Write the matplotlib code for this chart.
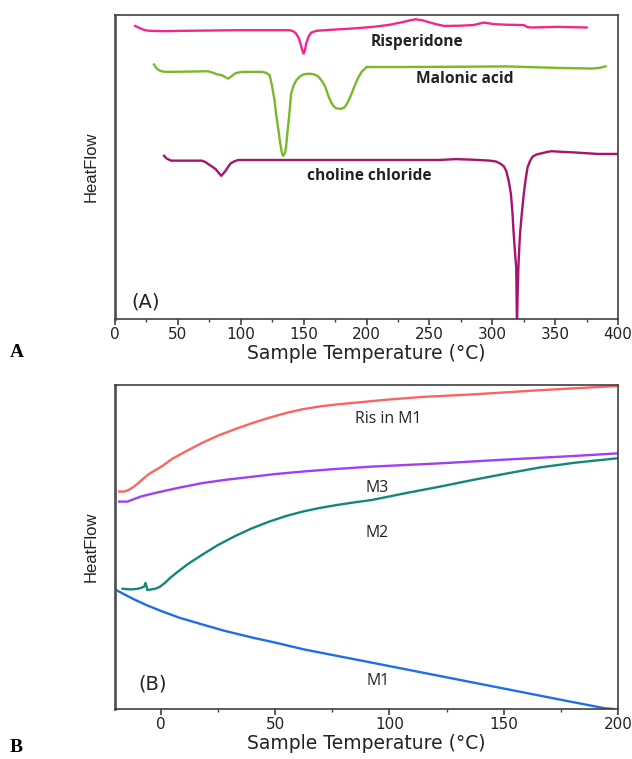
import matplotlib
matplotlib.use("Agg")
import matplotlib.pyplot as plt
from matplotlib.ticker import MultipleLocator

# ---------------- Panel A data ----------------
ris_T = [16, 18, 20, 24, 28, 40, 53, 75, 96, 120, 139, 142, 144, 146, 147.5, 149, 150, 151, 152, 154, 156, 160, 170, 190, 205, 217, 228, 235, 239, 244, 250, 256, 262, 275, 285, 290, 293, 297, 301, 312, 325, 328, 332, 352, 375]
ris_H = [96.4, 96.0, 95.6, 95.0, 94.8, 94.7, 94.8, 94.9, 95.0, 95.0, 95.0, 94.6, 93.9, 92.5, 90.6, 88.2, 87.3, 88.4, 90.6, 93.0, 94.2, 94.8, 95.1, 95.6, 96.1, 96.7, 97.6, 98.3, 98.6, 98.3, 97.6, 96.9, 96.4, 96.5, 96.7, 97.2, 97.5, 97.3, 97.0, 96.8, 96.7, 96.0, 95.9, 96.1, 95.9]

mal_T = [31, 33, 35, 38, 42, 60, 74, 78, 81, 85, 88, 90, 93, 96, 101, 117, 120, 123, 125, 127, 128, 130, 131, 132.5, 133.5, 135, 136, 137, 138.5, 140, 142, 144, 147, 150, 155, 158, 161, 163, 165, 167, 170, 172, 174, 176, 178, 180, 182, 184, 187, 190, 193, 196, 200, 231, 280, 311, 352, 379, 385, 390]
mal_H = [83.7, 82.5, 81.8, 81.4, 81.3, 81.4, 81.5, 81.0, 80.5, 80.2, 79.5, 79.1, 80.0, 80.9, 81.3, 81.3, 81.0, 80.2, 76.3, 71.5, 67.5, 62.0, 58.7, 55.0, 53.7, 54.5, 56.5, 61.0, 67.0, 74.1, 76.8, 78.5, 79.8, 80.5, 80.7, 80.5, 80.0, 79.1, 78.0, 76.5, 73.0, 71.2, 69.9, 69.3, 69.2, 69.2, 69.5, 70.5, 73.0, 76.2, 79.1, 81.3, 82.9, 82.9, 83.0, 83.1, 82.6, 82.4, 82.6, 83.1]

cho_T = [39, 41, 44.5, 55, 69, 72, 74, 77, 80, 83, 84.5, 86, 88, 90, 92, 95, 98, 120, 150, 200, 257, 271, 285, 298, 303, 306, 309, 311, 313, 314.8, 316, 317, 318, 319, 319.6, 320.2, 321, 322, 323.5, 325, 326.5, 328, 330, 332, 335, 339, 343, 347, 355, 365, 384, 400]
cho_H = [53.7, 52.8, 52.1, 52.1, 52.1, 51.6, 51.0, 50.2, 49.3, 47.8, 47.1, 47.8, 48.8, 50.1, 51.2, 51.9, 52.3, 52.3, 52.3, 52.3, 52.3, 52.6, 52.4, 52.1, 51.8, 51.2, 50.3, 48.8, 45.5, 41.1, 35.0, 27.9, 22.0, 16.9, -3.0, 10.0, 20.0, 27.9, 35.0, 41.1, 46.0, 49.9, 52.0, 53.4, 54.1, 54.5, 54.9, 55.2, 55.0, 54.8, 54.3, 54.3]

# ---------------- Panel B data ----------------
rism1_T = [-18.2, -16, -14, -12, -10, -8, -5, 0.3, 5, 10.7, 18, 25.5, 33, 40.3, 48, 55.1, 62, 69.9, 77, 84.7, 92, 99.6, 114.4, 136.6, 166.3, 200]
rism1_H = [67.1, 67.1, 67.6, 68.5, 69.6, 70.9, 72.6, 74.8, 77.2, 79.4, 82.1, 84.5, 86.5, 88.3, 90.0, 91.4, 92.5, 93.4, 94.0, 94.5, 95.0, 95.5, 96.3, 97.1, 98.4, 99.7]

m3_T = [-18.2, -14.5, -12, -8.6, -4, 0.3, 8, 18.1, 28, 40.3, 50, 62.5, 77, 92.3, 121.9, 151.5, 181.1, 200]
m3_H = [64.0, 64.0, 64.7, 65.6, 66.4, 67.1, 68.3, 69.7, 70.7, 71.7, 72.5, 73.3, 74.1, 74.8, 75.8, 77.0, 78.1, 78.9]

m2_T = [-16.7, -13, -10, -8.6, -7.2, -6.7, -6.2, -5.9, -4.1, -2, -0.4, 1.8, 4, 7.7, 12, 18.1, 25, 32.9, 40, 47.7, 55, 62.5, 70, 77.4, 85, 92.3, 107, 121.9, 136.6, 151.5, 166.3, 181.1, 200]
m2_H = [37.1, 36.9, 37.1, 37.4, 37.8, 38.9, 37.8, 36.7, 36.9, 37.2, 37.7, 38.9, 40.4, 42.5, 44.8, 47.6, 50.6, 53.5, 55.8, 57.9, 59.6, 61.0, 62.1, 63.0, 63.8, 64.5, 66.6, 68.6, 70.7, 72.7, 74.6, 76.0, 77.4]

m1_T = [-20, -16, -11.6, -6, 0.3, 8, 18.1, 28, 40.3, 50, 62.5, 77, 92.3, 121.9, 151.5, 181.1, 194.4, 198]
m1_H = [36.9, 35.4, 33.8, 32.0, 30.2, 28.2, 26.1, 24.1, 22.0, 20.5, 18.4, 16.4, 14.3, 10.2, 6.1, 2.0, 0.2, 0.0]

xticks_A = [0, 50, 100, 150, 200, 250, 300, 350, 400]
xticks_B = [0, 50, 100, 150, 200]

fig = plt.figure(figsize=(6.32, 7.59), dpi=100)
axA = fig.add_axes([0.182, 0.5797, 0.796, 0.4005])
axB = fig.add_axes([0.182, 0.0659, 0.796, 0.4269])

spine_col = "#404040"
for ax in (axA, axB):
    for s in ax.spines.values():
        s.set_color(spine_col)
        s.set_linewidth(1.2)
    ax.spines["left"].set_linewidth(2.0)
    ax.spines["left"].set_color("#555555")
    ax.set_yticks([])
    ax.tick_params(axis="x", which="major", direction="out", length=4, width=1.2,
                   color=spine_col, labelsize=11, pad=2, labelcolor="#222222")
    ax.tick_params(axis="x", which="minor", direction="out", length=2.5, width=1.0, color=spine_col)
    ax.set_ylabel("HeatFlow", family="Liberation Sans", fontsize=12, labelpad=12, color="#222222")
    ax.set_xlabel("Sample Temperature (°C)", fontsize=13.5, labelpad=1, color="#222222")

lw = 1.7
# Panel A
axA.plot(ris_T, ris_H, color="#f0288c", lw=lw)
axA.plot(mal_T, mal_H, color="#78b928", lw=lw)
axA.plot(cho_T, cho_H, color="#a8146c", lw=lw)
axA.set_xlim(0, 400)
axA.set_ylim(0, 100)
axA.set_xticks(xticks_A)
axA.xaxis.set_minor_locator(MultipleLocator(25))
lab_kw = dict(fontsize=11.2, fontweight="bold", family="Open Sans", color="#222222", ha="center", va="center")
axA.text(240, 91.2, "Risperidone", **lab_kw)
axA.text(278, 78.9, "Malonic acid", **lab_kw)
axA.text(202, 47.1, "choline chloride", **lab_kw)
axA.text(24, 5.5, "(A)", fontsize=14, ha="center", va="center", color="#222222")

# Panel B
axB.plot(rism1_T, rism1_H, color="#fa6464", lw=lw)
axB.plot(m3_T, m3_H, color="#a040f5", lw=lw)
axB.plot(m2_T, m2_H, color="#14877a", lw=lw)
axB.plot(m1_T, m1_H, color="#1e6fe6", lw=lw)
axB.set_xlim(-20, 200)
axB.set_ylim(0, 100)
axB.set_xticks(xticks_B)
axB.xaxis.set_minor_locator(MultipleLocator(25))
lb_kw = dict(fontsize=11.4, family="Open Sans", color="#222222", ha="center", va="center")
axB.text(99.6, 89.4, "Ris in M1", **lb_kw)
axB.text(94.8, 68.1, "M3", **lb_kw)
axB.text(94.8, 54.3, "M2", **lb_kw)
axB.text(95.1, 8.5, "M1", **lb_kw)
axB.text(-3.4, 7.7, "(B)", fontsize=14, ha="center", va="center", color="#222222")

fig.text(10 / 632, 1 - 352 / 759, "A", family="Liberation Serif", fontweight="bold", fontsize=14, ha="left", va="center")
fig.text(10 / 632, 1 - 748 / 759, "B", family="Liberation Serif", fontweight="bold", fontsize=14, ha="left", va="center")

fig.savefig("out.png", dpi=100, facecolor="white")
